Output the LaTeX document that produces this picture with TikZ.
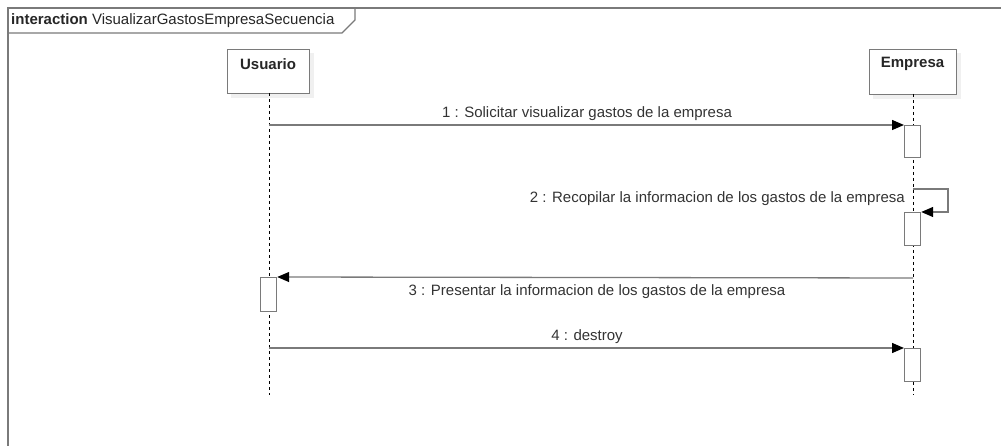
\documentclass[tikz,border=0pt]{standalone}
\usepackage{fontspec}
\setmainfont{Liberation Sans}
\usetikzlibrary{arrows.meta}
\definecolor{linegray}{HTML}{7A7A7A}
\definecolor{shadowgray}{HTML}{F0F0F0}
\tikzset{
  lifebox/.style={draw=linegray, line width=1.2pt, fill=white, minimum width=#1, minimum height=44pt, inner sep=0pt},
  actbox/.style={draw=linegray, line width=1.2pt, fill=white, minimum width=16pt, inner sep=0pt},
  lifeline/.style={draw=black, line width=0.9pt, dash pattern=on 3pt off 3pt},
  msg/.style={draw=linegray, line width=1.3pt, -{Triangle[length=12pt,width=10pt,color=black]}},
  msglabel/.style={font=\fontsize{15}{17}\selectfont, text=black!80, inner sep=0pt},
  framestyle/.style={draw=linegray, line width=1.2pt}
}
\begin{document}
\begin{tikzpicture}[x=1pt,y=-1pt]
\useasboundingbox (0,0) rectangle (1001,446);
% frame
\draw[framestyle] (8,446) -- (8,8) -- (1001,8);
\draw[framestyle] (8,33) -- (342,33) -- (355,20) -- (355,8);
\node[anchor=west, inner sep=0pt, font=\fontsize{15}{17}\selectfont, text=black!85] (title) at (11,20.5) {\textbf{interaction} VisualizarGastosEmpresaSecuencia};
% shadows
\fill[shadowgray] (231,53) rectangle (314,98);
\fill[shadowgray] (873,53) rectangle (961,99);
% lifeline heads
\node[lifebox=82pt, anchor=north west] (usuario) at (227,49) {};
\node[font=\bfseries\fontsize{15}{17}\selectfont, inner sep=0pt, text=black!85] (usuariolbl) at (268,64) {Usuario};
\node[lifebox=87pt, anchor=north west, minimum height=45pt] (empresa) at (869,49) {};
\node[font=\bfseries\fontsize{15}{17}\selectfont, inner sep=0pt, text=black!85] (empresalbl) at (912.5,64) {Empresa};
% lifelines
\coordinate (uend) at (269,395);
\coordinate (eend) at (913,395);
\draw[lifeline] (269,93) -- (uend);
\draw[lifeline] (913,94) -- (eend);
% activations
\node[actbox, minimum height=32pt, anchor=north west] (a1) at (904,125) {};
\node[actbox, minimum height=33pt, anchor=north west] (a2) at (904,212) {};
\node[actbox, minimum height=34pt, anchor=north west] (a3) at (260,277) {};
\node[actbox, minimum height=33pt, anchor=north west] (a4) at (904,348) {};
% messages
\coordinate (m1s) at (269,125);
\draw[msg] (m1s) -- (a1.north west);
\node[msglabel] (l1) at (587,113.5) {1 : Solicitar visualizar gastos de la empresa};
\coordinate (m2s) at (913,189);
\draw[msg] (m2s) -- (948,189) -- (948,212) -- (a2.north east);
\node[msglabel, anchor=east] (l2) at (905,198.5) {2 : Recopilar la informacion de los gastos de la empresa};
\coordinate (m3s) at (913,278);
\draw[msg] (m3s) -- (a3.north east);
\node[msglabel] (l3) at (597,292) {3 : Presentar la informacion de los gastos de la empresa};
\coordinate (m4s) at (269,348);
\draw[msg] (m4s) -- (a4.north west);
\node[msglabel] (l4) at (587,336.5) {4 : destroy};
\end{tikzpicture}
\end{document}
